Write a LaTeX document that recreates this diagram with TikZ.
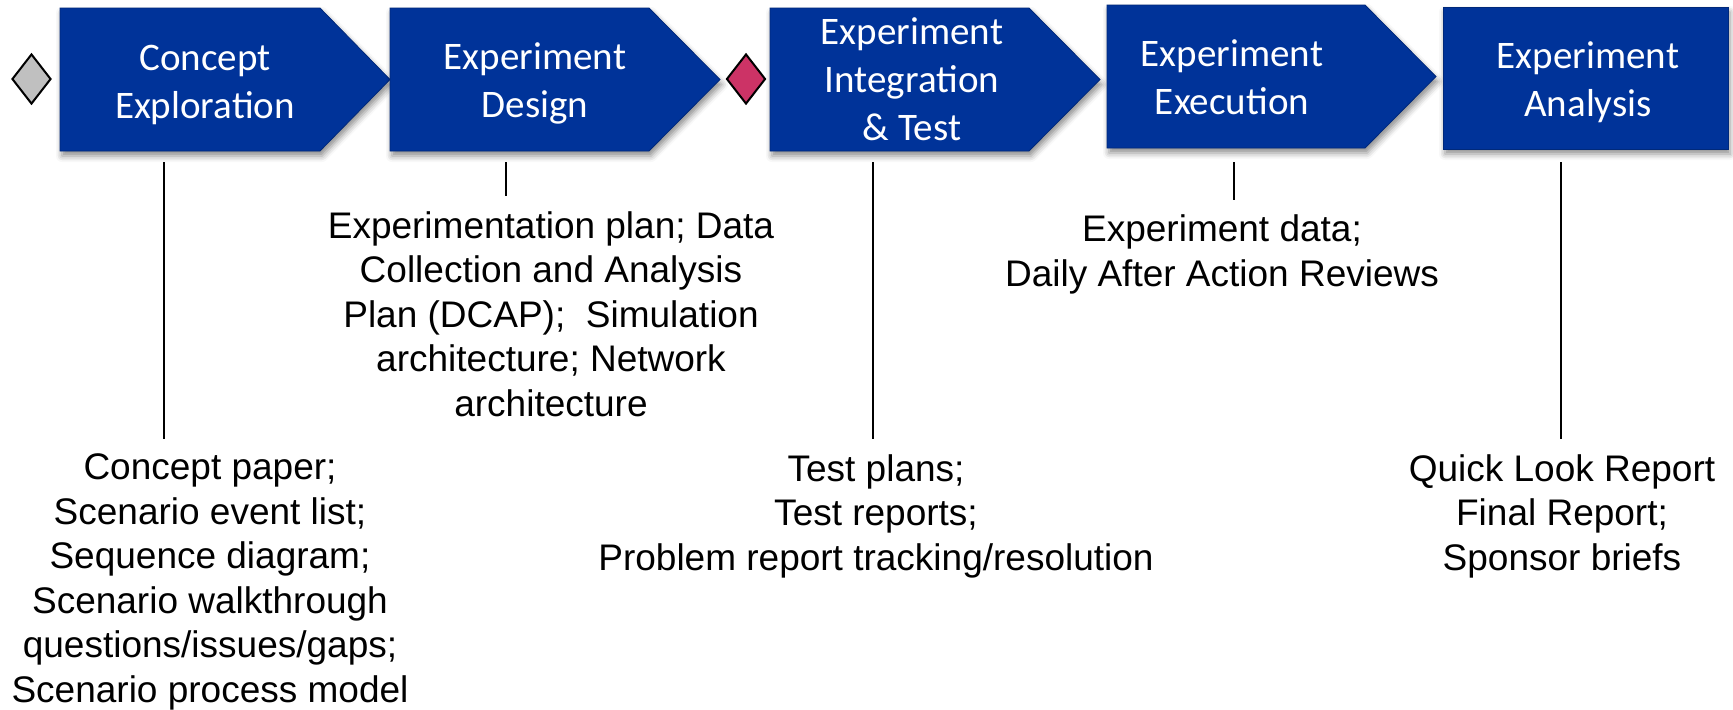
\documentclass[tikz,border=0pt]{standalone}
\usepackage{fontspec}
\newfontfamily\phasefont{Carlito}
\newfontfamily\labelfont{Liberation Sans}
\usetikzlibrary{shapes.geometric,shadows.blur}

\definecolor{phaseblue}{RGB}{0,51,153}
\definecolor{gategray}{RGB}{192,192,192}
\definecolor{gatepink}{RGB}{204,51,102}

\tikzset{
  phase/.style={fill=phaseblue, draw=phaseblue!80!black, line width=0.4pt,
    blur shadow={shadow xshift=1pt, shadow yshift=-2.5pt, shadow blur radius=3pt, shadow opacity=45}},
  phasetext/.style={anchor=base, text=white, align=center, inner sep=0pt,
    font=\phasefont\fontsize{19.5}{24}\selectfont},
  gate/.style={diamond, draw=black, line width=1pt, minimum width=19.5pt,
    minimum height=25pt, inner sep=0pt},
  product/.style={anchor=base, align=center, inner sep=0pt, outer sep=7.5pt,
    font=\labelfont\fontsize{18.5}{22.25}\selectfont},
  tick/.style={line width=1pt}
}

\begin{document}
\begin{tikzpicture}[x=0.5pt,y=-0.5pt]
\useasboundingbox (0,0) rectangle (1733,709);
% phases
\begin{scope}[shift={(60,8)}]
\draw[phase] (0,0) -- (260,0) -- (330,71.5) -- (260,143) -- (0,143) -- cycle;
\end{scope}
\begin{scope}[shift={(390,8)}]
\draw[phase] (0,0) -- (259,0) -- (330,71.5) -- (259,143) -- (0,143) -- cycle;
\end{scope}
\begin{scope}[shift={(770,8)}]
\draw[phase] (0,0) -- (259,0) -- (330,71.5) -- (259,143) -- (0,143) -- cycle;
\end{scope}
\begin{scope}[shift={(1107,5)}]
\draw[phase] (0,0) -- (258,0) -- (329,71.5) -- (258,143) -- (0,143) -- cycle;
\end{scope}
\begin{scope}[shift={(1443,7)}]
\draw[phase] (0,0) rectangle (285,142);
\end{scope}
\node[phasetext] (concept) at (205,118) {Concept\\Exploration};
\node[phasetext] (design) at (535,117) {Experiment\\Design};
\node[phasetext] (integ) at (912,140) {Experiment\\Integration\\\& Test};
\node[phasetext] (exec) at (1232,114) {Experiment\\Execution};
\node[phasetext] (analysis) at (1588,116) {Experiment\\Analysis};
% gates
\node[gate, fill=gategray] (start) at (31.5,79) {};
\node[gate, fill=gatepink] (review) at (746,79) {};
% products
\node[product] (concept-out) at (210,702) {Concept paper;\\Scenario event list;\\Sequence diagram;\\Scenario walkthrough\\questions/issues/gaps;\\Scenario process model};
\node[product] (design-out) at (551,416) {Experimentation plan; Data\\Collection and Analysis\\Plan (DCAP);\ \ Simulation\\architecture; Network\\architecture};
\node[product] (integ-out) at (876,570) {Test plans;\\Test reports;\\Problem report tracking/resolution};
\node[product] (exec-out) at (1222,286) {Experiment data;\\Daily After Action Reviews};
\node[product] (analysis-out) at (1562,570) {Quick Look Report\\Final Report;\\Sponsor briefs};
% ticks
\coordinate (concept-tick) at (164,162);
\coordinate (design-tick) at (506,162);
\coordinate (integ-tick) at (873,162);
\coordinate (exec-tick) at (1234,162);
\coordinate (analysis-tick) at (1561,162);
\draw[tick] (concept-tick) -- (concept-tick |- concept-out.north);
\draw[tick] (design-tick) -- (design-tick |- design-out.north);
\draw[tick] (integ-tick) -- (integ-tick |- integ-out.north);
\draw[tick] (exec-tick) -- (exec-tick |- exec-out.north);
\draw[tick] (analysis-tick) -- (analysis-tick |- analysis-out.north);
\end{tikzpicture}
\end{document}
